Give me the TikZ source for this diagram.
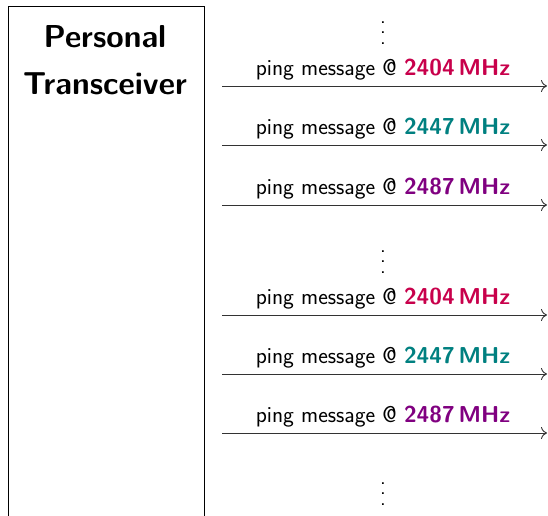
\documentclass[tikz,border=0pt]{standalone}
\usepackage{fontspec}
\usetikzlibrary{arrows.meta}
\definecolor{fredc}{RGB}{200,0,75}
\definecolor{fteal}{RGB}{0,128,128}
\definecolor{fpurp}{RGB}{128,0,128}
\tikzset{
  msg/.style={font=\sffamily\fontsize{23}{26}\selectfont, inner sep=0pt, anchor=base},
  ttl/.style={font=\sffamily\bfseries\fontsize{31.7}{36}\selectfont, inner sep=0pt, anchor=base},
  link/.style={draw=black!80, line width=0.9pt, -{To[length=6pt,width=12pt]}},
  vd/.style={font=\sffamily\fontsize{22}{10.5}\selectfont, inner sep=0pt, align=center},
  devbox/.style={draw, line width=0.8pt, anchor=north west, minimum width=196pt, minimum height=560pt, inner sep=0pt}
}
\begin{document}
\begin{tikzpicture}[x=1pt,y=-1pt]
\useasboundingbox (0,0) rectangle (548,515);
\clip (0,0) rectangle (548,515);
\node[devbox] (dev) at (8,6) {};
\node[ttl] (lbl1) at (105,47) {Personal};
\node[ttl] (lbl2) at (105,94) {Transceiver};
\node[vd] (d1) at (383,33) {.\\.\\.};
\node[vd] (d2) at (383,262) {.\\.\\.};
\node[vd] (d3) at (383,494) {.\\.\\.};
\foreach \y/\f/\c [count=\i] in {86/2404/fredc,145/2447/fteal,205/2487/fpurp,315/2404/fredc,374/2447/fteal,433/2487/fpurp}{
  \coordinate (s\i) at (222,\y);
  \coordinate (e\i) at (547,\y);
  \draw[link] (s\i) -- (e\i);
  \node[msg] (m\i) at (383,\y-11) {ping message @ \textcolor{\c}{\textbf{\f\,MHz}}};
}
\end{tikzpicture}
\end{document}
